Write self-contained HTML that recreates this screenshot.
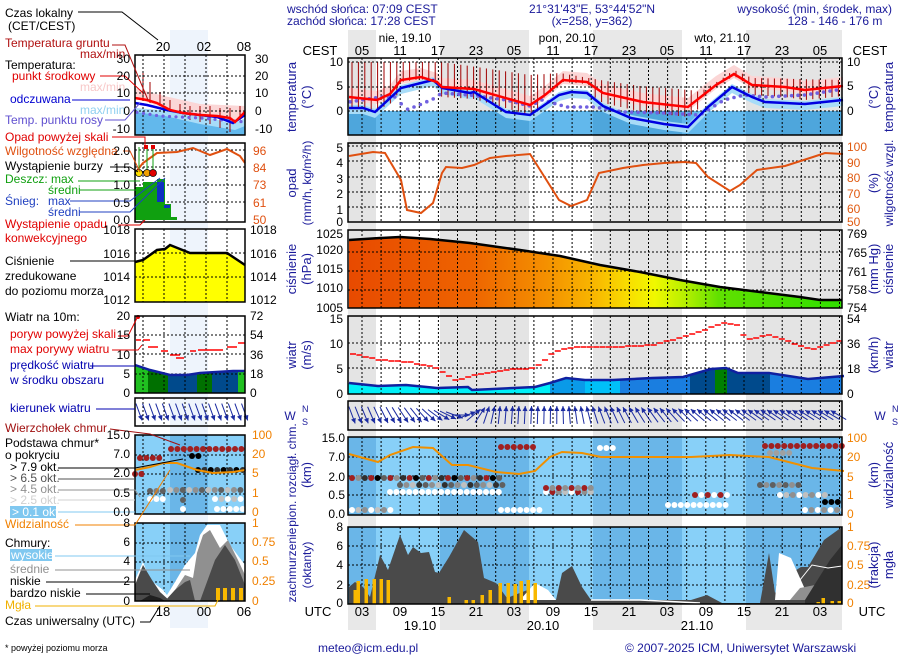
<!DOCTYPE html>
<html><head><meta charset="utf-8"><style>
html,body{margin:0;padding:0;background:#fff;}
svg{display:block;font-family:"Liberation Sans",sans-serif;}
</style></head><body>
<svg id="s" width="910" height="660" viewBox="0 0 910 660" xmlns="http://www.w3.org/2000/svg">
<rect width="910" height="660" fill="#fff"/>
<g id="bg"></g>
<g id="g"></g>
<g id="t" font-size="12">
<text x="287" y="13" fill="#1a1a9a">wschód słońca: 07:09 CEST</text>
<text x="287" y="25" fill="#1a1a9a">zachód słońca: 17:28 CEST</text>
<text x="592" y="13" fill="#1a1a9a" text-anchor="middle">21°31'43"E, 53°44'52"N</text>
<text x="592" y="25" fill="#1a1a9a" text-anchor="middle">(x=258,  y=362)</text>
<text x="892" y="13" fill="#1a1a9a" text-anchor="end">wysokość (min, środek, max)</text>
<text x="835" y="25" fill="#1a1a9a" text-anchor="middle">128 - 146 - 176 m</text>
<text x="405" y="42" text-anchor="middle">nie, 19.10</text>
<text x="567" y="42" text-anchor="middle">pon, 20.10</text>
<text x="722" y="42" text-anchor="middle">wto, 21.10</text>
<g font-size="13" text-anchor="middle">
<text x="320" y="55">CEST</text><text x="870" y="55">CEST</text>
<text x="362" y="55">05</text><text x="400" y="55">11</text><text x="438" y="55">17</text><text x="476" y="55">23</text><text x="514" y="55">05</text><text x="553" y="55">11</text><text x="591" y="55">17</text><text x="629" y="55">23</text><text x="667" y="55">05</text><text x="706" y="55">11</text><text x="744" y="55">17</text><text x="782" y="55">23</text><text x="820" y="55">05</text>
<text x="318" y="616">UTC</text><text x="872" y="616">UTC</text>
<text x="362" y="616">03</text><text x="400" y="616">09</text><text x="438" y="616">15</text><text x="476" y="616">21</text><text x="514" y="616">03</text><text x="553" y="616">09</text><text x="591" y="616">15</text><text x="629" y="616">21</text><text x="667" y="616">03</text><text x="706" y="616">09</text><text x="744" y="616">15</text><text x="782" y="616">21</text><text x="820" y="616">03</text>
<text x="420" y="630">19.10</text><text x="543" y="630">20.10</text><text x="697" y="630">21.10</text>
<text x="163" y="51">20</text><text x="204" y="51">02</text><text x="244" y="51">08</text>
<text x="163" y="616">18</text><text x="204" y="616">00</text><text x="244" y="616">06</text>
</g>
<g text-anchor="end">
<text x="343" y="66">10</text><text x="343" y="90">5</text><text x="343" y="115">0</text>
<text x="343" y="152">5</text><text x="343" y="167">4</text><text x="343" y="183">3</text><text x="343" y="198">2</text><text x="343" y="214">1</text><text x="343" y="226">0</text>
<text x="343" y="238">1025</text><text x="343" y="254">1020</text><text x="343" y="273">1015</text><text x="343" y="292">1010</text><text x="343" y="312">1005</text>
<text x="343" y="323">15</text><text x="343" y="348">10</text><text x="343" y="373">5</text><text x="343" y="398">0</text>
<text x="345" y="442">15.0</text><text x="345" y="461">7.0</text><text x="345" y="481">2.0</text><text x="345" y="499">0.5</text><text x="345" y="518">0.0</text>
<text x="343" y="531">8</text><text x="343" y="550">6</text><text x="343" y="569">4</text><text x="343" y="589">2</text><text x="343" y="607">0</text>
</g>
<g>
<text x="847" y="66">10</text><text x="847" y="90">5</text><text x="847" y="115">0</text>
<text x="847" y="151" fill="#e05a10">100</text><text x="847" y="167" fill="#e05a10">90</text><text x="847" y="182" fill="#e05a10">80</text><text x="847" y="198" fill="#e05a10">70</text><text x="847" y="213" fill="#e05a10">60</text><text x="847" y="226" fill="#e05a10">50</text>
<text x="847" y="238">769</text><text x="847" y="257">765</text><text x="847" y="276">761</text><text x="847" y="294">758</text><text x="847" y="312">754</text>
<text x="847" y="323">54</text><text x="847" y="348">36</text><text x="847" y="373">18</text><text x="847" y="398">0</text>
<text x="847" y="442" fill="#f08000">100</text><text x="847" y="461" fill="#f08000">20</text><text x="847" y="481" fill="#f08000">5</text><text x="847" y="499" fill="#f08000">1</text><text x="847" y="518" fill="#f08000">0</text>
<text x="847" y="531" fill="#f08000">1</text><text x="847" y="550" fill="#f08000">0.75</text><text x="847" y="569" fill="#f08000">0.5</text><text x="847" y="589" fill="#f08000">0.25</text><text x="847" y="607" fill="#f08000">0</text>
</g>
<g fill="#1a1a9a" font-size="13" text-anchor="middle">
<text transform="translate(296,97) rotate(-90)">temperatura</text><text transform="translate(311,97) rotate(-90)">(°C)</text>
<text transform="translate(296,183) rotate(-90)">opad</text><text transform="translate(311,183) rotate(-90)" font-size="12">(mm/h, kg/m²/h)</text>
<text transform="translate(296,269) rotate(-90)">ciśnienie</text><text transform="translate(311,269) rotate(-90)">(hPa)</text>
<text transform="translate(296,355) rotate(-90)">wiatr</text><text transform="translate(311,355) rotate(-90)">(m/s)</text>
<text transform="translate(296,475) rotate(-90)" font-size="12">pion. rozciągł. chm.</text><text transform="translate(311,475) rotate(-90)">(km)</text>
<text transform="translate(296,565) rotate(-90)" font-size="12">zachmurzenie</text><text transform="translate(311,565) rotate(-90)" font-size="12">(oktanty)</text>
<text transform="translate(878,97) rotate(-90)">(°C)</text><text transform="translate(893,97) rotate(-90)">temperatura</text>
<text transform="translate(878,183) rotate(-90)">(%)</text><text transform="translate(893,183) rotate(-90)" font-size="12">wilgotność wzgl.</text>
<text transform="translate(878,269) rotate(-90)">(mm Hg)</text><text transform="translate(893,269) rotate(-90)">ciśnienie</text>
<text transform="translate(878,355) rotate(-90)">(km/h)</text><text transform="translate(893,355) rotate(-90)">wiatr</text>
<text transform="translate(878,475) rotate(-90)">(km)</text><text transform="translate(893,475) rotate(-90)">widzialność</text>
<text transform="translate(878,565) rotate(-90)">(frakcja)</text><text transform="translate(893,565) rotate(-90)">mgła</text>
</g>
<g fill="#1a1a9a" font-size="12"><text x="290" y="420" text-anchor="middle">W</text><text x="302" y="425" font-size="9">S</text><text x="302" y="412" font-size="9">N</text>
<text x="880" y="420" text-anchor="middle">W</text><text x="892" y="425" font-size="9">S</text><text x="892" y="412" font-size="9">N</text></g>
<text x="5" y="17">Czas lokalny</text><text x="8" y="30">(CET/CEST)</text>
<text x="5" y="47" fill="#b01010">Temperatura gruntu</text><text x="80" y="58" fill="#b01010">max/min</text>
<text x="5" y="69">Temperatura:</text>
<text x="12" y="80" fill="#e00000">punkt środkowy</text>
<text x="80" y="91" fill="#f8c8c8">max/min</text>
<text x="10" y="103" fill="#0000d0">odczuwana</text>
<text x="80" y="114" fill="#90d0f0">max/min</text>
<text x="5" y="124" fill="#6050d0">Temp. punktu rosy</text>
<text x="5" y="141" fill="#e00000">Opad powyżej skali</text>
<text x="5" y="155" fill="#e05010">Wilgotność względna</text>
<text x="5" y="170">Wystąpienie burzy</text>
<text x="5" y="183" fill="#10a010">Deszcz: max</text>
<text x="48" y="194" fill="#10a010">średni</text>
<text x="5" y="205" fill="#2040c0">Śnieg:</text><text x="48" y="205" fill="#2040c0">max</text>
<text x="48" y="216" fill="#2040c0">średni</text>
<text x="5" y="228" fill="#e00000">Wystąpienie opadu</text>
<text x="5" y="242" fill="#e00000">konwekcyjnego</text>
<text x="5" y="265">Ciśnienie</text><text x="5" y="280">zredukowane</text><text x="5" y="295">do poziomu morza</text>
<text x="5" y="321">Wiatr na 10m:</text>
<text x="10" y="338" fill="#e00000">poryw powyżej skali</text>
<text x="10" y="353" fill="#e00000">max porywy wiatru</text>
<text x="10" y="369" fill="#0000b0">prędkość wiatru</text>
<text x="10" y="384" fill="#0000b0">w środku obszaru</text>
<text x="10" y="412" fill="#0000b0">kierunek wiatru</text>
<text x="5" y="432" fill="#a01010">Wierzchołek chmur</text>
<text x="5" y="447">Podstawa chmur*</text><text x="5" y="459">o pokryciu</text>
<text x="10" y="471">&gt; 7.9 okt.</text>
<text x="10" y="482" fill="#505050">&gt; 6.5 okt.</text>
<text x="10" y="493" fill="#909090">&gt; 4.5 okt.</text>
<text x="10" y="504" fill="#d0d0d0">&gt; 2.5 okt.</text>
<rect x="10" y="506" width="46" height="12" fill="#80c8f0"/>
<text x="12" y="516" fill="#fff">&gt; 0.1 okt.</text>
<text x="5" y="528" fill="#f08000">Widzialność</text>
<text x="5" y="547">Chmury:</text>
<rect x="10" y="549" width="42" height="12" fill="#80c8f0"/>
<text x="11" y="559" fill="#fff">wysokie</text>
<text x="10" y="573" fill="#909090">średnie</text>
<text x="10" y="585">niskie</text>
<text x="10" y="597">bardzo niskie</text>
<text x="5" y="609" fill="#f0b000">Mgła</text>
<text x="5" y="625">Czas uniwersalny (UTC)</text>
<text x="5" y="651" font-size="9">* powyżej poziomu morza</text>
<g text-anchor="end">
<text x="130" y="63">30</text><text x="130" y="80">20</text><text x="130" y="97">10</text><text x="130" y="115">0</text><text x="130" y="133">-10</text>
<text x="130" y="155">2.0</text><text x="130" y="172">1.5</text><text x="130" y="189">1.0</text><text x="130" y="207">0.5</text><text x="130" y="224">0.0</text>
<text x="130" y="234">1018</text><text x="130" y="258">1016</text><text x="130" y="281">1014</text><text x="130" y="304">1012</text>
<text x="130" y="320">20</text><text x="130" y="339">15</text><text x="130" y="359">10</text><text x="130" y="378">5</text><text x="130" y="397">0</text>
<text x="130" y="439">15.0</text><text x="130" y="458">7.0</text><text x="130" y="477">2.0</text><text x="130" y="497">0.5</text><text x="130" y="516">0.0</text>
<text x="130" y="527">8</text><text x="130" y="546">6</text><text x="130" y="565">4</text><text x="130" y="585">2</text><text x="130" y="605">0</text>
</g>
<g>
<text x="255" y="63">30</text><text x="255" y="80">20</text><text x="255" y="97">10</text><text x="255" y="115">0</text><text x="255" y="133">-10</text>
<text x="253" y="155" fill="#e05010">96</text><text x="253" y="172" fill="#e05010">84</text><text x="253" y="189" fill="#e05010">73</text><text x="253" y="207" fill="#e05010">61</text><text x="253" y="224" fill="#e05010">50</text>
<text x="250" y="234">1018</text><text x="250" y="258">1016</text><text x="250" y="281">1014</text><text x="250" y="304">1012</text>
<text x="250" y="320">72</text><text x="250" y="339">54</text><text x="250" y="359">36</text><text x="250" y="378">18</text><text x="250" y="397">0</text>
<text x="252" y="439" fill="#f08000">100</text><text x="252" y="458" fill="#f08000">20</text><text x="252" y="477" fill="#f08000">5</text><text x="252" y="497" fill="#f08000">1</text><text x="252" y="516" fill="#f08000">0</text>
<text x="252" y="527" fill="#f08000">1</text><text x="252" y="546" fill="#f08000">0.75</text><text x="252" y="565" fill="#f08000">0.5</text><text x="252" y="585" fill="#f08000">0.25</text><text x="252" y="605" fill="#f08000">0</text>
</g>
<text x="318" y="652" fill="#1a1a9a">meteo@icm.edu.pl</text>
<text x="625" y="652" fill="#1a1a9a">© 2007-2025 ICM, Uniwersytet Warszawski</text>
</g>
</svg>
<script>
var NS="http://www.w3.org/2000/svg",G=document.getElementById('g'),BG=document.getElementById('bg');
function el(t,a,p){var e=document.createElementNS(NS,t);for(var k in a)e.setAttribute(k,a[k]);(p||G).appendChild(e);return e;}
function P(pts){return pts.map(function(p){return p[0]+','+p[1]}).join(' ');}
function pl(pts,c,w,extra){var a={points:P(pts),fill:'none',stroke:c,'stroke-width':w||1};for(var k in extra)a[k]=extra[k];return el('polyline',a);}
function pg(pts,f){return el('polygon',{points:P(pts),fill:f});}
function interp(pts,x){for(var i=0;i<pts.length-1;i++){if(x>=pts[i][0]&&x<=pts[i+1][0]){var t=(x-pts[i][0])/(pts[i+1][0]-pts[i][0]||1);return pts[i][1]+t*(pts[i+1][1]-pts[i][1]);}}return x<pts[0][0]?pts[0][1]:pts[pts.length-1][1];}
function area(pts,yb,f){var a=pts.slice();a.push([pts[pts.length-1][0],yb]);a.push([pts[0][0],yb]);return pg(a,f);}
function band(pts,d1,d2,f){var a=pts.map(function(p){return [p[0],p[1]+d1]});var b=pts.slice().reverse().map(function(p){return [p[0],p[1]+d2]});return pg(a.concat(b),f);}
var MX0=348,MX1=842,NIGHTS=[[348,376],[440,529],[593,682],[746,842]];
var LX0=135,LX1=245;
NIGHTS.forEach(function(n){el('rect',{x:n[0],y:30,width:n[1]-n[0],height:600,fill:'#e8e8e8'},BG);});
el('rect',{x:170,y:30,width:38,height:598,fill:'#eef4fc'},BG);
function panelBG(x0,x1,y0,y1,day,night,nights){el('rect',{x:x0,y:y0,width:x1-x0,height:y1-y0,fill:day});if(nights)nights.forEach(function(n){var a=Math.max(n[0],x0),b=Math.min(n[1],x1);if(b>a)el('rect',{x:a,y:y0,width:b-a,height:y1-y0,fill:night});});}
function grid(x0,x1,y0,y1,xs,ys){xs.forEach(function(x){el('line',{x1:x,y1:y0,x2:x,y2:y1,stroke:'#000','stroke-width':1,'stroke-dasharray':'2,2'});});ys.forEach(function(y){el('line',{x1:x0,y1:y,x2:x1,y2:y,stroke:'#000','stroke-width':1,'stroke-dasharray':'2,2'});});}
function frame(x0,x1,y0,y1){el('rect',{x:x0,y:y0,width:x1-x0,height:y1-y0,fill:'none',stroke:'#000','stroke-width':1.5});}
var MXS=[];for(var x=362;x<MX1;x+=19.1)MXS.push(x);
var LXS=[143,164,185,206,227];
var LN=[[170,208]];

// MAIN TEMP
panelBG(MX0,MX1,58,135,'#fff','#e4e4e4',NIGHTS);
var red=[[349,97],[377,100],[390,94],[401,80],[421,77],[437,82],[442,87],[474,89],[530,105],[545,95],[563,80],[587,82],[603,93],[643,102],[688,107],[716,85],[734,74],[752,85],[785,87],[805,90],[843,86]];
var blue=[[349,108],[363,108],[375,112],[401,88],[413,85],[433,80],[442,88],[470,93],[474,92],[482,97],[506,112],[530,115],[559,95],[571,92],[587,93],[603,106],[631,118],[664,124],[688,127],[708,107],[732,87],[752,97],[765,102],[805,104],[843,100]];
band(red,-9,4,'#fbd6d6');
el('rect',{x:MX0,y:111,width:MX1-MX0,height:24,fill:'#62b8ec'});
NIGHTS.forEach(function(n){el('rect',{x:n[0],y:111,width:n[1]-n[0],height:24,fill:'#4ea6dc'});});
band(blue,-3,6,'#a8dcf8');
var gtop=[[349,62],[440,62],[470,66],[530,75],[560,73],[600,80],[640,86],[690,90],[700,92],[720,80],[734,70],[752,78],[843,80]];
for(var x=352;x<840;x+=6.4){var yt=interp(gtop,x),yb=interp(red,x)+(x<400||x>440&&x<540||x>590&&x<700||x>745?10:2);el('line',{x1:x,y1:yt,x2:x,y2:yb,stroke:'#a00000','stroke-width':1});}
grid(MX0,MX1,58,135,MXS,[62,87,111]);
var dew=[[349,102],[381,97],[397,97],[405,110],[417,106],[433,99],[442,93],[470,95],[506,100],[530,106],[542,100],[567,107],[595,107],[623,112],[664,113],[700,115],[724,100],[744,95],[765,97],[805,95],[843,89]];
for(var x=350;x<842;x+=6.4)el('circle',{cx:x,cy:interp(dew,x),r:1.8,fill:'#7060e0'});
pl(blue,'#0000e0',2.5);pl(red,'#ff0000',2.5);
frame(MX0,MX1,58,135);

// LEFT TEMP
panelBG(LX0,LX1,55,135,'#fff','#eef4fc',LN);
var lred=[[135,98],[147,100],[157,103],[170,110],[183,113],[200,115],[217,116],[230,118],[235,122],[245,112]];
var lblue=[[135,103],[147,105],[167,110],[183,113],[217,117],[233,123],[245,115]];
pg([[135,88],[160,95],[200,104],[245,106],[245,112],[235,122],[200,115],[170,110],[135,98]],'#fbd6d6');
area([[135,108],[160,110],[200,115],[233,124],[245,118]],135,'#a8dcf8');
area([[135,112],[165,116],[200,124],[235,130],[245,126]],135,'#62b8ec');
[[143,73,100],[150,82,103],[160,92,106],[170,100,112],[180,104,114],[190,106,120],[200,106,122],[210,106,124],[220,108,128],[230,108,132],[240,106,120]].forEach(function(a){el('line',{x1:a[0],y1:a[1],x2:a[0],y2:a[2],stroke:'#a00000'});});
grid(LX0,LX1,55,135,LXS,[76,93,111]);
for(var x=137;x<245;x+=6.5)el('circle',{cx:x,cy:interp([[135,112],[160,116],[200,118],[245,122]],x),r:1.6,fill:'#7060e0'});
pl(lblue,'#0000e0',2.5);pl(lred,'#ff0000',2.5);
frame(LX0,LX1,55,135);

// MAIN HUMIDITY
panelBG(MX0,MX1,143,222,'#fff','#e4e4e4',NIGHTS);
grid(MX0,MX1,143,222,MXS,[146,161,177,192,207]);
var hum=[[349,156],[373,152],[385,153],[401,180],[407,210],[421,213],[433,203],[442,173],[446,167],[462,168],[474,165],[490,158],[506,156],[530,154],[542,173],[559,200],[571,206],[587,200],[599,173],[623,168],[643,165],[664,163],[684,162],[696,163],[708,177],[730,191],[740,185],[757,170],[785,166],[813,157],[825,153],[843,154]];
pl(hum,'#e05010',2);
frame(MX0,MX1,143,222);

// LEFT HUMIDITY
panelBG(LX0,LX1,143,222,'#fff','#eef4fc',LN);
grid(LX0,LX1,143,222,LXS,[150,167,185,202]);
el('rect',{x:135,y:187,width:8,height:33,fill:'#10a010'});
el('rect',{x:143,y:182,width:14,height:38,fill:'#10a010'});
el('rect',{x:157,y:179,width:8,height:41,fill:'#10a010'});
el('rect',{x:165,y:204,width:6,height:16,fill:'#10a010'});
el('rect',{x:171,y:217,width:6,height:3,fill:'#10a010'});
el('rect',{x:157,y:182,width:7,height:20,fill:'#1030c0'});
el('rect',{x:164,y:205,width:6,height:3,fill:'#1030c0'});
pl([[135,173],[143,163],[157,153],[177,152],[193,148],[210,155],[227,149],[240,156],[245,163]],'#e05010',2);
[[139,'#ffe000'],[147,'#f0a000'],[153,'#e00000']].forEach(function(d){el('line',{x1:d[0],y1:147,x2:d[0],y2:172,stroke:'#10a010'});el('circle',{cx:d[0],cy:173,r:3.5,fill:d[1],stroke:'#000','stroke-width':0.7});});
el('rect',{x:144,y:145,width:4,height:4,fill:'#e00000'});el('rect',{x:151,y:145,width:4,height:4,fill:'#e00000'});
frame(LX0,LX1,143,222);

// MAIN PRESSURE
panelBG(MX0,MX1,230,308,'#fff','#e4e4e4',NIGHTS);
var defs=el('defs',{});var lg=el('linearGradient',{id:'pg',x1:'0',x2:'1',y1:'0',y2:'0'},defs);
[[0,'#e84a00'],[0.25,'#ee6400'],[0.4,'#f49000'],[0.5,'#f8b800'],[0.57,'#f8e000'],[0.62,'#f0f800'],[0.68,'#b8f000'],[0.75,'#60e000'],[1,'#30e000']].forEach(function(s){el('stop',{offset:s[0],'stop-color':s[1]},lg);});
var pres=[[349,240],[380,238],[400,237],[430,239],[470,243],[520,250],[560,256],[600,265],[640,272],[680,280],[720,287],[760,292],[800,297],[820,300],[842,300]];
area(pres,308,'url(#pg)');
grid(MX0,MX1,230,308,MXS,[252,271,290]);
pl(pres,'#000',2.5);
frame(MX0,MX1,230,308);

// LEFT PRESSURE
panelBG(LX0,LX1,229,302,'#fff','#eef4fc',LN);
var lp=[[135,262],[143,260],[157,250],[165,249],[170,245],[190,253],[227,253],[245,265]];
area(lp,302,'#ffff00');
grid(LX0,LX1,229,302,LXS,[253,277]);
pl(lp,'#000',2.5);
frame(LX0,LX1,229,302);

// MAIN WIND
panelBG(MX0,MX1,316,394,'#fff','#e4e4e4',NIGHTS);
var wind=[[349,383],[378,386],[406,385],[437,388],[468,387],[472,390],[535,387],[550,383],[566,378],[585,380],[613,380],[652,378],[683,377],[711,369],[726,368],[738,373],[769,373],[808,379],[844,376]];
var segs=[[348,550,'#00f0f8'],[550,585,'#0a9ae8'],[585,620,'#00c0f8'],[620,690,'#1a7ee0'],[690,715,'#004a8c'],[715,727,'#008000'],[727,770,'#004a8c'],[770,842,'#1a7ee0']];
segs.forEach(function(s){var pts=[];for(var x=s[0];x<=s[1];x+=2)pts.push([x,interp(wind,x)]);pts.push([s[1],interp(wind,s[1])]);area(pts,394,s[2]);});
grid(MX0,MX1,316,394,MXS,[343,368]);
pl(wind,'#1020a0',2.5);
var gust=[[351,353],[378,360],[409,362],[437,368],[456,380],[476,375],[503,370],[535,368],[554,352],[574,347],[613,347],[652,345],[675,339],[699,332],[722,323],[738,325],[745,338],[750,339],[769,335],[793,343],[812,350],[844,340]];
for(var x=350;x<838;x+=6.4){var y=Math.round(interp(gust,x+3));el('line',{x1:x,y1:y,x2:x+6,y2:y,stroke:'#ff0000','stroke-width':1.5});}
frame(MX0,MX1,316,394);

// LEFT WIND
panelBG(LX0,LX1,316,393,'#fff','#eef4fc',LN);
var lw=[[135,365],[150,370],[170,375],[187,375],[200,373],[233,371],[245,371]];
[[135,148,'#20c020'],[148,168,'#007000'],[168,197,'#004a8c'],[197,212,'#007000'],[212,238,'#004a8c'],[238,245,'#20c020']].forEach(function(s){area([[s[0],interp(lw,s[0])],[s[1],interp(lw,s[1])]],393,s[2]);});
grid(LX0,LX1,316,393,LXS,[335,354,374]);
pl(lw,'#1020a0',2.5);
[[136,141,340],[143,150,340],[148,158,347],[161,168,351],[170,180,355],[176,184,358],[190,196,351],[198,223,350],[227,237,347],[238,245,343]].forEach(function(d){el('line',{x1:d[0],y1:d[2],x2:d[1],y2:d[2],stroke:'#ff0000','stroke-width':1.5});});
el('circle',{cx:138,cy:317,r:2,fill:'#e00000'});
frame(LX0,LX1,316,393);

// DIRECTION
function arrow(cx,cy,ang,len){var r=ang*Math.PI/180,dx=Math.sin(r),dy=-Math.cos(r);var x1=cx-dx*len/2,y1=cy-dy*len/2,x2=cx+dx*len/2,y2=cy+dy*len/2;el('line',{x1:x1,y1:y1,x2:x2,y2:y2,stroke:'#1a2aa0','stroke-width':1});var hx=-dx*5,hy=-dy*5,px=-dy*2.5,py=dx*2.5;el('polygon',{points:(x2)+','+(y2)+' '+(x2+hx+px)+','+(y2+hy+py)+' '+(x2+hx-px)+','+(y2+hy-py),fill:'#1a2aa0'});}
panelBG(MX0,MX1,401,430,'#fff','#e4e4e4',NIGHTS);
grid(MX0,MX1,401,430,MXS,[]);
var dirs=[[348,160],[380,155],[420,140],[455,110],[470,60],[485,20],[500,5],[560,0],[600,-20],[700,-50],[760,-55],[842,-60]];
for(var x=352;x<840;x+=6.4)arrow(x,415,interp(dirs,x),18);
frame(MX0,MX1,401,430);
panelBG(LX0,LX1,398,426,'#fff','#eef4fc',LN);
grid(LX0,LX1,398,426,LXS,[]);
for(var x=139;x<245;x+=6.6)arrow(x,412,160,18);
frame(LX0,LX1,398,426);

// MAIN CLOUD BASE
panelBG(MX0,MX1,437,515,'#88d0f8','#6ab6e8',NIGHTS);
grid(MX0,MX1,437,515,MXS,[457,476,495]);
function dots(x0,x1,y,cols,step){var i=0;for(var x=x0;x<=x1;x+=step||6.4){el('circle',{cx:x,cy:y,r:3,fill:cols[i%cols.length]});i++;}}
dots(501,535,447,['#a02020']);dots(765,844,446,['#a02020']);dots(770,790,453,['#a0a0a0']);
dots(352,503,478,['#a02020','#909090','#303030','#a02020','#000','#606060']);
dots(400,503,485,['#606060','#909090','#c0c0c0','#303030']);
dots(390,503,492,['#ffffff']);
dots(352,396,510,['#ffffff','#c0c0c0','#909090']);dots(501,542,510,['#ffffff']);
dots(546,593,492,['#ffffff','#a02020','#909090','#c0c0c0']);dots(546,593,488,['#a02020','#909090']);
dots(600,613,448,['#ffffff']);
dots(668,730,505,['#ffffff']);dots(695,730,495,['#a02020','#ffffff']);
dots(760,800,485,['#606060','#909090']);dots(780,830,495,['#ffffff','#c0c0c0','#909090']);
dots(805,844,510,['#ffffff','#909090']);dots(825,844,502,['#000']);
pl([[349,454],[378,462],[390,455],[413,447],[433,448],[452,465],[468,465],[496,472],[519,474],[535,471],[550,457],[562,452],[582,453],[601,457],[691,457],[730,455],[769,457],[812,468],[844,471]],'#f09000',2);
frame(MX0,MX1,437,515);

// LEFT CLOUD BASE
panelBG(LX0,LX1,435,514,'#88d0f8','#6ab6e8',LN);
grid(LX0,LX1,435,514,LXS,[455,474,494]);
dots(171,245,449,['#a02020']);dots(140,165,458,['#a02020']);dots(135,143,474,['#a02020']);
dots(150,165,491,['#606060','#808080']);dots(170,245,490,['#c0c0c0','#909090','#606060']);
dots(192,203,456,['#000']);dots(198,245,470,['#000','#303030']);
dots(150,165,499,['#ffffff']);dots(215,245,499,['#ffffff','#c0c0c0']);dots(217,245,509,['#ffffff']);
dots(183,183,500,['#606060']);dots(183,183,509,['#ffffff']);
pl([[135,470],[150,467],[163,463],[177,463],[197,470],[213,473],[233,472],[245,470]],'#f09000',2);
frame(LX0,LX1,435,514);

// MAIN CLOUD COVER
panelBG(MX0,MX1,527,604,'#88d0f8','#6ab6e8',NIGHTS);
grid(MX0,MX1,527,604,MXS,[546,565,585]);
var cc=[[349,587],[355,582],[363,587],[370,597],[380,555],[388,570],[400,535],[408,555],[413,547],[421,553],[429,552],[435,572],[439,573],[449,557],[464,530],[478,542],[484,578],[496,583],[507,598],[535,587],[546,597],[556,600],[562,573],[572,566],[582,587],[591,600],[691,600],[707,595],[722,603],[760,603],[769,553],[775,593],[785,577],[801,567],[808,567],[824,540],[842,527]];
area(cc,604,'#4a4a4a');
pg([[520,600],[535,583],[548,590],[556,600]],'#ffffff');
pg([[775,600],[779,553],[791,558],[804,587],[806,600]],'#ffffff');
pg([[790,600],[800,588],[815,585],[825,600]],'#909090');
pg([[805,600],[830,560],[842,545],[842,604],[805,604]],'#303030');
pl([[591,600],[640,600],[700,603]],'#ffffff',1.5);
pl([[785,600],[800,580],[812,565],[828,568],[842,566]],'#ffffff',1);
[[355,590],[358,581],[366,579],[374,579],[381,579],[388,580],[449,597],[466,600],[473,600],[482,595],[490,590],[500,583],[508,583],[515,584],[521,581],[528,580],[535,583],[818,602],[823,598],[832,601],[839,601]].forEach(function(b){el('rect',{x:b[0]-1.5,y:b[1],width:3.5,height:604-b[1],fill:'#f8b800'});});
frame(MX0,MX1,527,604);

// LEFT CLOUD COVER
panelBG(LX0,LX1,523,601,'#88d0f8','#6ab6e8',LN);
grid(LX0,LX1,523,601,LXS,[543,562,582]);
pg([[135,601],[135,580],[143,562],[150,580],[163,590],[167,595],[175,582],[185,565],[195,553],[200,535],[207,525],[220,525],[230,545],[245,565],[245,601]],'#ffffff');
pg([[165,601],[175,590],[185,575],[193,578],[197,553],[203,535],[210,530],[220,548],[228,540],[238,560],[245,575],[245,601]],'#909090');
pg([[135,601],[135,585],[143,565],[152,580],[160,592],[170,601]],'#4a4a4a');
pg([[165,601],[175,590],[185,582],[190,580],[195,601]],'#4a4a4a');
pg([[200,601],[215,560],[225,545],[235,560],[245,585],[245,601]],'#4a4a4a');
pg([[140,601],[150,595],[160,598],[165,601]],'#202020');
[[218,588],[225,588],[233,588],[241,588]].forEach(function(b){el('rect',{x:b[0]-2,y:b[1],width:4,height:13,fill:'#f8b800'});});
frame(LX0,LX1,523,601);

function cl(pts,c){pl(pts,c,1);}
cl([[78,12],[122,12],[158,40]],'#000');
cl([[112,45],[125,45],[148,100]],'#b01010');
cl([[100,76],[125,76],[143,93]],'#e00000');
cl([[72,100],[130,100]],'#0000d0');
cl([[105,120],[125,120],[140,103]],'#6050d0');
cl([[112,137],[145,137],[145,145]],'#e00000');
cl([[123,151],[130,151],[140,172]],'#e05010');
cl([[110,167],[130,167],[138,172]],'#000');
cl([[78,181],[140,181]],'#10a010');cl([[80,190],[140,190]],'#10a010');
cl([[70,201],[130,201],[160,178]],'#2040c0');cl([[80,212],[130,212],[165,178]],'#2040c0');
cl([[118,225],[140,225],[145,220]],'#e00000');
cl([[70,261],[135,261]],'#000');
cl([[118,336],[128,336],[137,318]],'#e00000');
cl([[112,350],[138,350],[142,345]],'#e00000');
cl([[90,366],[135,366]],'#0000b0');
cl([[96,409],[135,409]],'#0000b0');
cl([[110,429],[150,434],[180,445]],'#a01010');
cl([[58,468],[135,468],[183,459]],'#000');
cl([[58,479],[135,479]],'#505050');
cl([[58,490],[135,490],[140,497]],'#909090');
cl([[58,500],[135,500]],'#d0d0d0');
cl([[58,512],[135,512]],'#80c8f0');
cl([[75,525],[135,525],[170,470]],'#f08000');
cl([[55,556],[190,556]],'#80c8f0');
cl([[55,570],[190,570]],'#909090');
cl([[46,582],[135,582]],'#000');
cl([[86,594],[150,594]],'#000');
cl([[35,606],[215,606],[218,600]],'#f0b000');
cl([[140,622],[150,622],[160,606]],'#000');
</script>
</body></html>
